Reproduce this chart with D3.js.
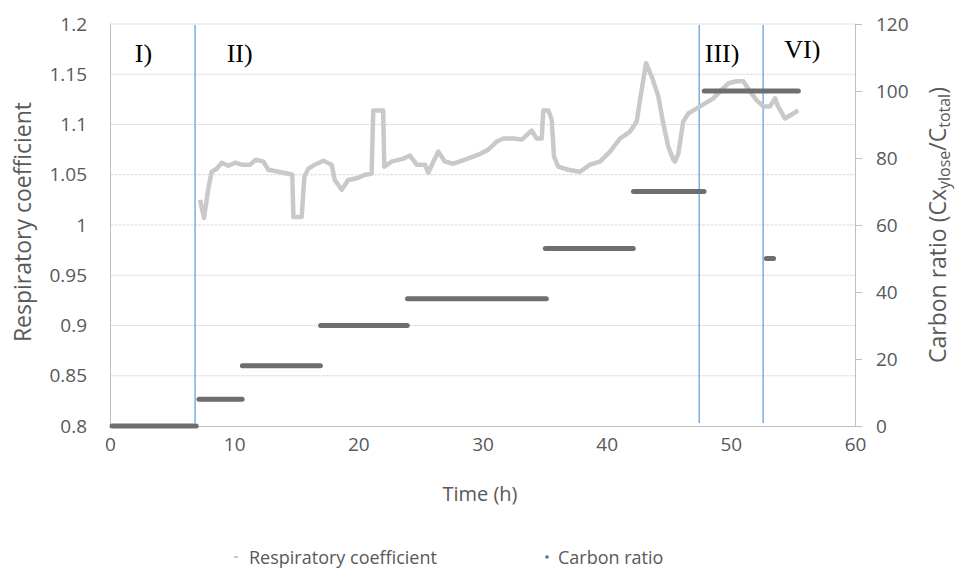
<!DOCTYPE html>
<html><head><meta charset="utf-8">
<script src="https://cdn.jsdelivr.net/npm/d3@7"></script>
<style>body{margin:0;background:#fff}svg{display:block}</style>
</head><body><svg id="c" width="955" height="575" font-family="'Open Sans',sans-serif"></svg>
<script>
// Respiratory coefficient (time h, RQ)
const rqTime = [7.25,7.57,7.9,8.19,8.6,9.0,9.53,10.07,10.6,11.28,11.73,12.35,12.75,13.56,14.36,14.68,14.77,15.44,15.65,15.97,16.5,17.18,17.85,18.1,18.66,19.2,19.33,20.0,20.54,21.07,21.2,22.0,22.09,22.68,23.62,24.16,24.7,25.37,25.63,26.04,26.44,26.98,27.65,28.59,29.66,30.47,31.14,31.68,32.48,33.16,33.96,34.36,34.77,34.9,35.3,35.57,35.76,36.1,36.9,37.85,38.66,39.46,40.27,41.07,41.88,42.42,42.68,43.17,43.62,44.16,44.56,44.96,45.37,45.5,45.77,46.17,46.57,47.25,47.92,48.59,49.13,49.8,50.47,51.0,51.54,52.08,52.62,53.15,53.56,53.8,54.36,54.9,55.43];
const rqValue = [1.025,1.007,1.035,1.053,1.056,1.062,1.059,1.062,1.060,1.060,1.065,1.063,1.055,1.053,1.051,1.050,1.008,1.008,1.048,1.056,1.060,1.064,1.060,1.045,1.035,1.045,1.045,1.047,1.050,1.051,1.114,1.114,1.058,1.063,1.066,1.069,1.060,1.060,1.052,1.063,1.073,1.063,1.061,1.065,1.070,1.075,1.083,1.086,1.086,1.085,1.094,1.086,1.086,1.114,1.114,1.105,1.068,1.058,1.055,1.053,1.060,1.063,1.073,1.086,1.093,1.103,1.124,1.161,1.148,1.128,1.101,1.078,1.065,1.063,1.071,1.103,1.111,1.116,1.121,1.126,1.133,1.141,1.143,1.143,1.133,1.124,1.118,1.118,1.126,1.118,1.106,1.110,1.114];
// Carbon ratio segments (time h start, end, ratio %)
const crStart = [0,7.0,10.5,16.8,23.8,34.9,42.0,47.7,52.7];
const crEnd   = [7.1,10.8,17.1,24.1,35.3,42.3,48.0,55.6,53.6];
const crValue = [0,8,18,30,38,53,70,100,50];
// Phase boundaries and labels
const phaseLines = [6.85,47.45,52.6];
const phaseLabels = ["I)","II)","III)","VI)"];
const phaseLabelX = [2.0,9.4,47.9,54.3];
const xTicks = [0,10,20,30,40,50,60];
const yTicks = [0.8,0.85,0.9,0.95,1,1.05,1.1,1.15,1.2];
const y2Ticks = [0,20,40,60,80,100,120];

const svg = d3.select("#c");
const L=110,R=855,T=24,B=426;
const x = d3.scaleLinear().domain([0,60]).range([L,R]);
const y = d3.scaleLinear().domain([0.8,1.2]).range([B,T]);
const y2 = d3.scaleLinear().domain([0,120]).range([B,T]);
const txt="#595959";

// gridlines
svg.append("g").selectAll("line").data(yTicks.filter(d=>d>0.8)).join("line")
  .attr("x1",L).attr("x2",R).attr("y1",d=>y(d)).attr("y2",d=>y(d))
  .attr("stroke","#d9d9d9").attr("stroke-width",1).attr("stroke-dasharray","3,1");

// left axis
const gl = svg.append("g").attr("transform",`translate(${L},0)`)
  .call(d3.axisLeft(y).tickValues(yTicks).tickSize(0).tickPadding(23).tickFormat(d=>String(+d.toFixed(2))));
gl.select(".domain").attr("stroke","#bfbfbf");
gl.selectAll("text").attr("fill",txt).attr("font-size",19).attr("font-family","'Open Sans',sans-serif");
// bottom axis
const gb = svg.append("g").attr("transform",`translate(0,${B})`)
  .call(d3.axisBottom(x).tickValues(xTicks).tickSize(0).tickPadding(12));
gb.select(".domain").attr("stroke","#bfbfbf");
gb.selectAll("text").attr("fill",txt).attr("font-size",19).attr("font-family","'Open Sans',sans-serif");
// right axis
const gr = svg.append("g").attr("transform",`translate(${R},0)`)
  .call(d3.axisRight(y2).tickValues(y2Ticks).tickSize(7).tickSizeOuter(0).tickPadding(14));
gr.select(".domain").attr("stroke","#bfbfbf");
gr.selectAll("line").attr("stroke","#bfbfbf");
gr.selectAll("text").attr("fill",txt).attr("font-size",19).attr("font-family","'Open Sans',sans-serif");

// phase lines
svg.append("g").selectAll("line").data(phaseLines).join("line")
  .attr("x1",d=>x(d)).attr("x2",d=>x(d)).attr("y1",T+1).attr("y2",B-3)
  .attr("stroke","#5b9bd5").attr("stroke-width",1.2);
svg.append("g").selectAll("text").data(phaseLabels).join("text")
  .attr("x",(d,i)=>x(phaseLabelX[i])).attr("y",(d,i)=>i===3?58:62)
  .attr("font-family","'Liberation Serif','Times New Roman',serif").attr("font-size",26).attr("fill","#000")
  .text(d=>d);

// RQ line
const rq = rqTime.map((t,i)=>[t,rqValue[i]]);
svg.append("path").datum(rq)
  .attr("d",d3.line().x(d=>x(d[0])).y(d=>y(d[1])))
  .attr("fill","none").attr("stroke","#c9c9c9").attr("stroke-width",4.5).attr("stroke-linejoin","round");

// Carbon ratio segments
svg.append("g").selectAll("line").data(crValue).join("line")
  .attr("x1",(d,i)=>x(crStart[i])+2).attr("x2",(d,i)=>x(crEnd[i])-2)
  .attr("y1",d=>y2(d)).attr("y2",d=>y2(d))
  .attr("stroke","#6e6e6e").attr("stroke-width",5).attr("stroke-linecap","round");

// axis titles
svg.append("text").attr("transform","translate(31,222) rotate(-90)").attr("text-anchor","middle")
  .attr("fill",txt).attr("font-size",23).text("Respiratory coefficient");
svg.append("text").attr("x",480).attr("y",501).attr("text-anchor","middle")
  .attr("fill",txt).attr("font-size",20).text("Time (h)");
const rt = svg.append("text").attr("transform","translate(946,225) rotate(-90)").attr("text-anchor","middle")
  .attr("fill",txt).attr("font-size",23);
rt.append("tspan").text("Carbon ratio (Cx");
rt.append("tspan").attr("font-size",16).attr("dy",4).text("ylose");
rt.append("tspan").attr("dy",-4).text("/C");
rt.append("tspan").attr("font-size",16).attr("dy",4).text("total");
rt.append("tspan").attr("dy",-4).text(")");

// legend
const lg = svg.append("g");
lg.append("line").attr("x1",234).attr("x2",238).attr("y1",557).attr("y2",557).attr("stroke","#c9c9c9").attr("stroke-width",2);
lg.append("text").attr("x",249).attr("y",564).attr("fill",txt).attr("font-size",18).text("Respiratory coefficient");
lg.append("circle").attr("cx",547).attr("cy",557).attr("r",1.8).attr("fill","#6e6e6e");
lg.append("text").attr("x",558).attr("y",564).attr("fill",txt).attr("font-size",18).text("Carbon ratio");
</script></body></html>
